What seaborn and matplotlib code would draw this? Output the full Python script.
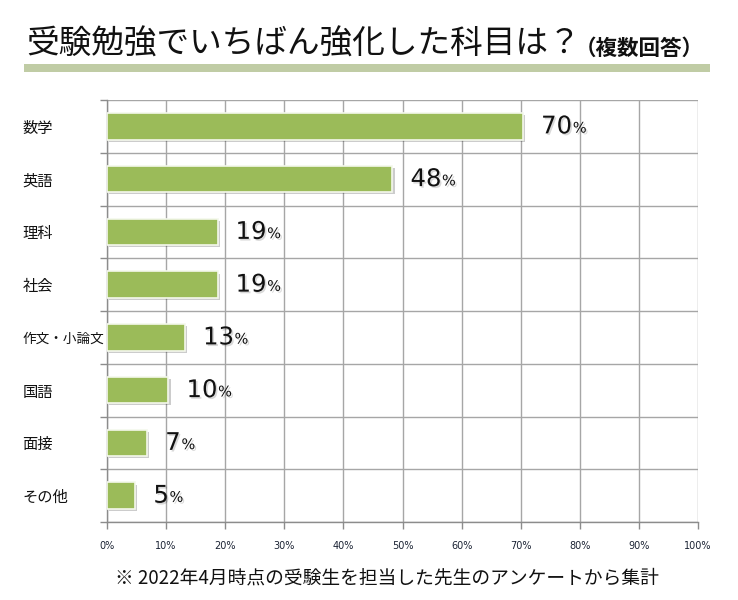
import matplotlib
matplotlib.use("Agg")
import matplotlib.pyplot as plt
import matplotlib.patheffects as pe
import seaborn as sns
import pandas as pd
import numpy as np

categories = ["数学", "英語", "理科", "社会", "作文・小論文", "国語", "面接", "その他"]
values = [70.4, 48.3, 18.7, 18.7, 13.2, 10.4, 6.8, 4.8]
value_labels = ["70", "48", "19", "19", "13", "10", "7", "5"]
x_ticks = [0, 10, 20, 30, 40, 50, 60, 70, 80, 90, 100]
x_tick_labels = [f"{t}%" for t in x_ticks]
title = "受験勉強でいちばん強化した科目は？"
title_sub = "（複数回答）"
footnote = "※ 2022年4月時点の受験生を担当した先生のアンケートから集計"

df = pd.DataFrame({"category": categories, "value": values})

sns.set_theme(style="white")
plt.rcParams["font.family"] = ["Noto Sans CJK JP", "DejaVu Sans"]

fig = plt.figure(figsize=(7.38, 6.0), dpi=100)
ax = fig.add_axes([107/738, 1-522/600, (698-107)/738, (522-100)/600])

sns.barplot(data=df, x="value", y="category", orient="h", color="#9bbb59",
            saturation=1, width=0.5, ax=ax, edgecolor="#f4f8ec", linewidth=1.2)

for p in ax.patches:
    p.set_path_effects([pe.SimplePatchShadow(offset=(1.5, -1.5), shadow_rgbFace="#000000", alpha=0.2), pe.Normal()])
    p.set_zorder(3)

ax.set_xlim(0, 100)
ax.set_ylim(7.5, -0.5)
ax.set_xticks(x_ticks)
ax.set_xticklabels(x_tick_labels, fontsize=7, color="#1a2233", family=["DejaVu Sans"])
ax.set_yticks(np.arange(len(categories)))
ax.set_yticklabels(categories, fontsize=11, color="#111111", ha="left")
for lbl in ax.get_yticklabels():
    if len(lbl.get_text()) > 4:
        lbl.set_fontsize(9.8)
ax.set_yticks(np.arange(-0.5, len(categories) + 0.5, 1), minor=True)
ax.tick_params(axis="y", which="major", length=0, pad=61)
ax.tick_params(axis="y", which="minor", length=5, color="#8c8c8c", width=1, direction="out", left=True)
ax.tick_params(axis="x", which="major", length=5, color="#8c8c8c", width=1, direction="out", bottom=True, pad=9)
ax.set_xlabel("")
ax.set_ylabel("")

ax.grid(axis="x", which="major", color="#a6a6a6", linewidth=1)
ax.grid(axis="y", which="minor", color="#a6a6a6", linewidth=1)
ax.set_axisbelow(True)
for s in ["top", "right"]:
    ax.spines[s].set_visible(False)
for s in ["left", "bottom"]:
    ax.spines[s].set_color("#8c8c8c")
    ax.spines[s].set_linewidth(1)

shadow = [pe.withSimplePatchShadow(offset=(1.2, -1.2), shadow_rgbFace="#000000", alpha=0.15)]
for i, (v, lab) in enumerate(zip(values, value_labels)):
    t = ax.annotate(lab, xy=(v, i), xytext=(13, 0), textcoords="offset points",
                    ha="left", va="center", fontsize=17.5, color="#111111",
                    family=["DejaVu Sans"], path_effects=shadow)
    ax.annotate("%", xy=(1, 0), xycoords=t, xytext=(0.5, 2), textcoords="offset points",
                ha="left", va="bottom", fontsize=10.5, color="#111111",
                family=["DejaVu Sans"], path_effects=shadow)

tt = fig.text(26/738, 1-45/600, title, fontsize=23.5, color="#111111", ha="left", va="center")
fig.canvas.draw()
sub = fig.text(0, 0, title_sub, fontsize=15.5, fontweight="bold", color="#111111", ha="left", va="baseline")
bb = tt.get_window_extent()
sub.set_position((bb.x1 / 738 - 0.008, (bb.y0 + 6) / 600))

fig.patches.append(plt.Rectangle((24/738, 1-72/600), (710-24)/738, 8/600,
                                 transform=fig.transFigure, facecolor="#c0cca5", edgecolor="none"))

fig.text(115/738, 1-578/600, footnote, fontsize=13.5, color="#111111", ha="left", va="center")

fig.savefig("out.png", dpi=100, facecolor="white")
